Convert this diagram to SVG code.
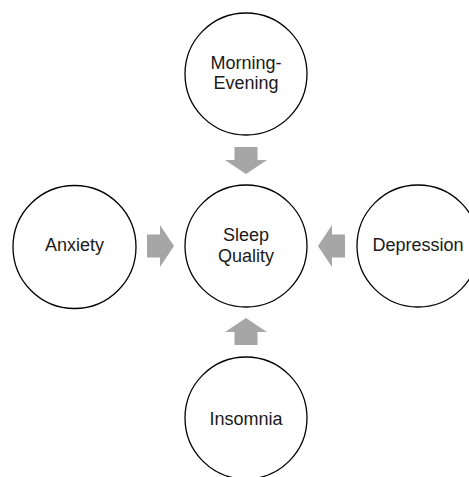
<svg xmlns="http://www.w3.org/2000/svg" width="469" height="477" viewBox="0 0 469 477">
<style>
.node circle{fill:#fff;stroke:#000;stroke-width:1.3}
.node text{font-family:"Liberation Sans",Arial,sans-serif;font-size:18px;fill:#1a1a1a;text-anchor:middle}
.arr{fill:#a6a6a6}
</style>
<defs>
<polygon id="arrow" class="arr" points="-11.5,-99 11.5,-99 11.5,-86 21,-86 0,-72 -21,-86 -11.5,-86"/>
</defs>
<rect width="469" height="477" fill="#fff"/>
<g id="connectors">
<use href="#arrow" transform="translate(246,246)"/>
<use href="#arrow" transform="translate(246,246) rotate(180)"/>
<use href="#arrow" transform="translate(246,246) rotate(-90)"/>
<use href="#arrow" transform="translate(246,246) rotate(90)"/>
</g>
<g id="morning" class="node"><circle cx="246" cy="74" r="61"/><text x="246" y="69">Morning-</text><text x="246" y="89">Evening</text></g>
<g id="sleep" class="node"><circle cx="246" cy="246" r="61"/><text x="246" y="241">Sleep</text><text x="246" y="262">Quality</text></g>
<g id="anxiety" class="node"><circle cx="74.5" cy="247" r="61.5"/><text x="74.5" y="251">Anxiety</text></g>
<g id="depression" class="node"><circle cx="418" cy="246" r="61"/><text x="418" y="251">Depression</text></g>
<g id="insomnia" class="node"><circle cx="246" cy="418" r="61"/><text x="246" y="425">Insomnia</text></g>
</svg>
